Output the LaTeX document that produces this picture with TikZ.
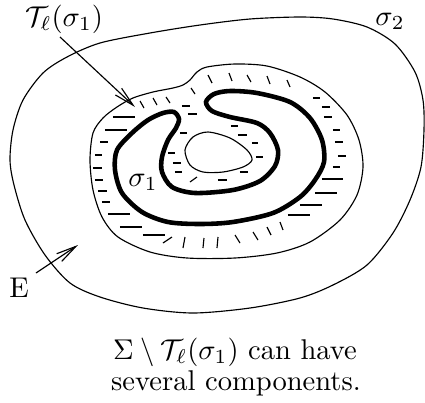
\documentclass[tikz,border=0pt]{standalone}
\usetikzlibrary{arrows.meta}
\begin{document}
\begin{tikzpicture}[x=0.35pt,y=-0.35pt,
  thinline/.style={line width=0.4pt},
  thickline/.style={line width=1.6pt},
  hatch/.style={line width=0.4pt},
  pointer/.style={line width=0.4pt,-{Straight Barb[length=7pt,width=3.2pt]}},
  lbl/.style={inner sep=0pt}]
\useasboundingbox (0,0) rectangle (425,402);
% outer curve
\draw[thinline] plot[smooth cycle] coordinates {
 (10,160) (13,130) (23,100) (43,73) (67,57) (100,43) (150,33) (200,25)
 (250,19) (300,17) (333,19) (367,27) (395,44) (415,72) (423,100) (424,130)
 (421,167) (410,200) (393,233) (367,265) (333,285) (300,298) (250,308)
 (193,313) (143,308) (100,297) (70,283) (45,255) (25,220) (14,185)};
% tubular neighbourhood boundary
\draw[thinline] plot[smooth cycle] coordinates {
 (90,160) (93,133) (103,118) (117,107) (133,98) (153,92) (173,88) (183,85)
 (190,80) (197,72) (207,67) (235,64) (267,66) (300,77) (325,92) (347,115)
 (359,140) (363,167) (357,195) (340,220) (310,242) (277,253) (235,258)
 (187,258) (150,252) (118,237) (102,217) (93,190)};
% hole
\draw[thinline] plot[smooth cycle] coordinates {
 (185,150) (193,137) (208,132) (230,138) (247,150) (252,160) (243,167)
 (223,172) (203,172) (190,165)};
% sigma_1
\draw[thickline] plot[smooth cycle] coordinates {
 (206,102) (214,94) (230,91) (257,93) (290,102) (310,118) (322,140)
 (324,162) (315,180) (300,197) (273,213) (233,222) (200,224) (168,222)
 (142,212) (122,193) (115,170) (117,150) (132,133) (148,120) (163,113)
 (174,112) (179,119) (176,128) (168,140) (162,157) (162,172) (172,187)
 (195,193) (233,190) (260,181) (275,166) (278,150) (270,133) (257,123)
 (230,117) (212,111)};
% hatching: horizontal dashes
\foreach \a/\b/\y in {113/135/117, 105/127/130, 100/108/142, 95/102/155,
  93/102/168, 95/103/180, 98/107/191, 102/110/202, 108/130/214, 120/142/227,
  143/165/235, 313/320/98, 322/330/107, 324/332/117, 333/340/130,
  335/343/142, 338/346/156, 333/340/167, 322/343/179, 315/337/193,
  300/322/205, 288/310/215, 182/190/106, 188/197/114, 180/187/133,
  168/175/153, 173/181/163, 175/182/172, 218/227/180, 240/248/172,
  256/263/157, 252/258/143, 238/247/135, 231/238/126}
  \draw[hatch] (\a,\y) -- (\b,\y);
% hatching: ticks
\foreach \a/\b/\c/\d in {140/101/144/108, 153/98/157/105, 166/97/170/103,
  191/88/195/94, 208/75/212/83, 229/73/232/81, 247/75/251/82, 267/76/270/84,
  287/80/290/87, 280/222/283/230, 267/227/271/235, 253/232/258/240,
  235/235/240/243, 218/237/217/248, 204/238/203/248, 185/237/183/248,
  172/237/163/243, 197/177/190/182}
  \draw[hatch] (\a,\b) -- (\c,\d);
% labels
\node[lbl] (tl) at (64,19) {$\mathcal{T}_\ell(\sigma_1)$};
\node[lbl] (s2) at (390,21) {$\sigma_2$};
\node[lbl] (s1) at (143,182) {$\sigma_1$};
\node[lbl] (e) at (19,288) {E};
\coordinate (tA) at (60,37);
\coordinate (tB) at (135,107);
\coordinate (eA) at (36,273);
\coordinate (eB) at (78,245);
\draw[pointer] (tA) -- (tB);
\draw[pointer] (eA) -- (eB);
\node[anchor=base,inner sep=0pt] (cap1) at (235,359) {$\Sigma\setminus\mathcal{T}_\ell(\sigma_1)$ can have};
\node[anchor=base,inner sep=0pt] (cap2) at (236,390) {several components.};
\end{tikzpicture}
\end{document}
